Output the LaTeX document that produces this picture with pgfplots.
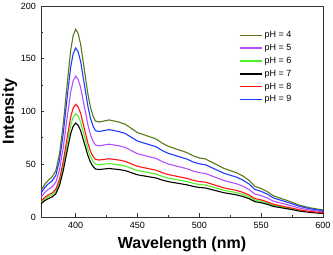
\documentclass[border=0pt]{standalone}
\usepackage{fontspec}
\setmainfont{Liberation Sans}
\usepackage{pgfplots}
\usepackage{pgfplotstable}
\pgfplotsset{compat=1.18}
\definecolor{cfour}{RGB}{90,120,25}
\definecolor{cfive}{RGB}{180,80,255}
\definecolor{csix}{RGB}{80,240,40}
\definecolor{cseven}{RGB}{0,0,0}
\definecolor{ceight}{RGB}{255,20,20}
\definecolor{cnine}{RGB}{30,60,255}
\pgfplotstableread{
x p7 p6 p8 p5 p9 p4
372 12.5 13.75 15.0 18.75 22.5 25
375 15.5 17.05 18.6 23.25 27.9 31
378 17.5 19.25 21.0 26.25 31.5 35
381 19 20.9 22.8 28.5 34.2 38
384 22 24.2 26.4 33 39.6 44
387 30 33 36 45 54 60
390 44 48.4 52.8 66 79.2 88
393 62 68.2 74.4 93 111.6 124
396 79 86.9 94.8 118.5 142.2 158
398 86 94.6 103.2 129 154.8 172
400 89 97.9 106.8 133.5 160.2 178
402 87 95.7 104.4 130.5 156.6 174
404 82 90.2 98.4 123 147.6 164
406 74 81.4 88.8 111 133.2 148
408 66 72.6 79.2 99 118.8 132
410 58 63.8 69.6 87 104.4 116
412 52 57.2 62.4 78 93.6 104
414 48 52.8 57.6 72 86.4 96
416 45.5 50.05 54.6 68.25 81.9 91
419 45 49.5 54 67.5 81 90
423 45.5 50.05 54.6 68.25 81.9 91
427 46 50.6 55.2 69 82.8 92
431 45.5 50.05 54.6 68.25 81.9 91
435 45 49.5 54 67.5 81 90
440 44 48.4 52.8 66 79.2 88
445 42 46.2 50.4 63 75.6 84
450 40 44 48 60 72 80
455 39 42.9 46.8 58.5 70.2 78
460 38 41.8 45.6 57 68.4 76
465 37 40.7 44.4 55.5 66.6 74
470 35 38.5 42 52.5 63 70
475 33.5 36.85 40.2 50.25 60.3 67
480 32.5 35.75 39 48.75 58.5 65
485 31.5 34.65 37.8 47.25 56.7 63
490 30.5 33.55 36.6 45.75 54.9 61
495 29 31.9 34.8 43.5 52.2 58
500 28 30.8 33.6 42 50.4 56
505 27.5 30.25 33 41.25 49.5 55
510 26 28.6 31.2 39 46.8 52
515 24.5 26.95 29.4 36.75 44.1 49
520 23 25.3 27.6 34.5 41.4 46
525 22 24.2 26.4 33 39.6 44
530 21 23.1 25.2 31.5 37.8 42
535 19.5 21.45 23.4 29.25 35.1 39
540 17.5 19.25 21 26.25 31.5 35
545 14.5 15.95 17.4 21.75 26.1 29
550 13.5 14.85 16.2 20.25 24.3 27
555 12 13.2 14.4 18 21.6 24
560 10 11 12 15 18 20
565 9 9.9 10.8 13.5 16.2 18
570 8 8.8 9.6 12 14.4 16
575 7 7.7 8.4 10.5 12.6 14
580 5.8 6.38 6.96 8.7 10.44 11.6
585 5 5.5 6 7.5 9 10
590 4.3 4.73 5.16 6.45 7.74 8.6
595 3.8 4.18 4.56 5.7 6.84 7.6
600 3.3 3.63 3.96 4.95 5.94 6.6
}\data
\begin{document}
\begin{tikzpicture}
\begin{axis}[
  name=ax,
  scale only axis,
  width=282pt, height=211pt,
  xmin=372, xmax=600, ymin=0, ymax=200,
  xtick={400,450,500,550,600},
  ytick={0,50,100,150,200},
  minor x tick num=1, minor y tick num=1,
  tick align=inside, xtick pos=bottom, ytick pos=left,
  major tick length=3.5pt, minor tick length=2pt,
  axis line style={black!80, line width=0.9pt},
  every tick/.style={black!80, line width=0.8pt},
  /pgf/number format/assume math mode=true,
  tick label style={font=\fontsize{9}{10}\selectfont},
  xticklabel style={yshift=-2pt},
  yticklabel style={xshift=-1.5pt},
  xlabel={\textbf{Wavelength (nm)}},
  ylabel={\textbf{Intensity}},
  label style={font=\fontsize{16}{18}\selectfont},
  xlabel style={yshift=-1pt},
  ylabel style={yshift=-3pt},
  legend style={draw=none, fill=none, at={(0.698,0.894)}, anchor=north west,
    font=\fontsize{9}{10}\selectfont, row sep=1.1pt, inner sep=1pt},
  legend cell align=left,
  legend image code/.code={\draw[#1, line width=1.5pt] (0pt,0pt) -- (22pt,0pt);},
  every axis plot/.append style={line width=1.1pt},
]
\addplot[cfour] table[x=x,y=p4]{\data};
\addplot[cfive] table[x=x,y=p5]{\data};
\addplot[csix] table[x=x,y=p6]{\data};
\addplot[cseven] table[x=x,y=p7]{\data};
\addplot[ceight] table[x=x,y=p8]{\data};
\addplot[cnine] table[x=x,y=p9]{\data};
\legend{pH = 4, pH = 5, pH = 6, pH = 7, pH = 8, pH = 9}
\end{axis}
\pgfresetboundingbox
\path[use as bounding box] ([xshift=-41pt,yshift=-38pt]ax.south west) rectangle ([xshift=10pt,yshift=6pt]ax.north east);
\end{tikzpicture}
\end{document}
